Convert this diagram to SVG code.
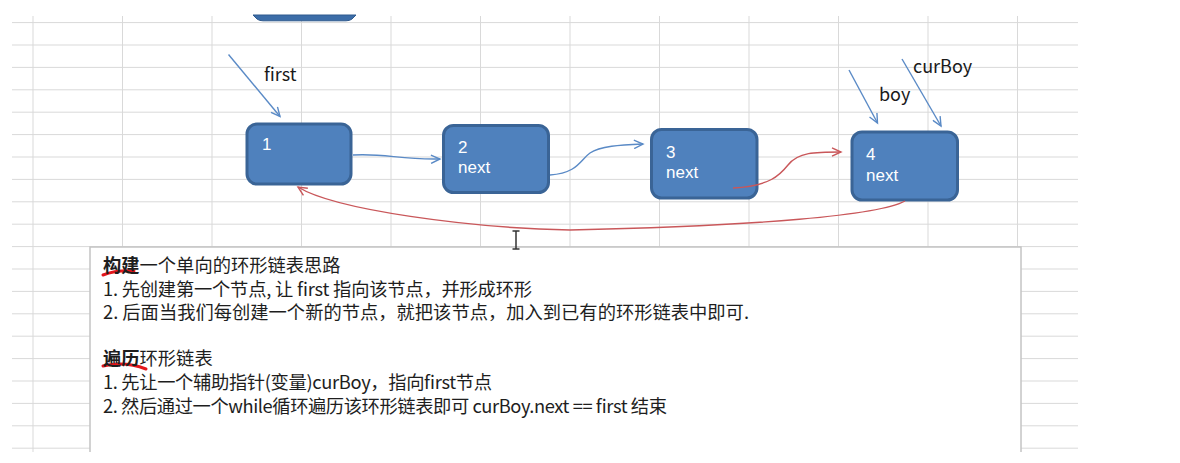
<svg xmlns="http://www.w3.org/2000/svg" width="1180" height="463" viewBox="0 0 1180 463">
  <style>
    .grid line { stroke: #d9d9d9; stroke-width: 1; }
    .node rect { fill: #4F81BD; stroke: #3A6496; stroke-width: 3; }
    .ntxt { font-family: "Liberation Sans", Arial, sans-serif; font-size: 17px; fill: #ffffff; }
    .lbl { font-family: "Noto Sans CJK SC", "Noto Sans", sans-serif; font-size: 18px; fill: #1a1a1a; }
    .blue { fill: none; stroke: #5A8AC6; stroke-width: 1.4; }
    .red { fill: none; stroke: #C9575A; stroke-width: 1.4; }
    .note { font-family: "Noto Sans CJK SC", "Noto Sans", sans-serif; font-size: 18.3px; fill: #1e1e1e; }
    .b { font-weight: 700; }
    .uline { fill: none; stroke: #e3161c; stroke-width: 3; stroke-linecap: round; }
  </style>
  <defs>
    <marker id="arrowBlue" viewBox="0 0 12 10" refX="10" refY="5" markerWidth="12" markerHeight="10" markerUnits="userSpaceOnUse" orient="auto">
      <path d="M1,0.8 L10,5 L1,9.2" fill="none" stroke="#5A8AC6" stroke-width="1.4"/>
    </marker>
    <marker id="arrowRed" viewBox="0 0 12 10" refX="10" refY="5" markerWidth="12" markerHeight="10" markerUnits="userSpaceOnUse" orient="auto">
      <path d="M1,0.8 L10,5 L1,9.2" fill="none" stroke="#C9575A" stroke-width="1.4"/>
    </marker>
  </defs>

  <rect x="0" y="0" width="1180" height="463" fill="#ffffff"/>

  <g id="grid" class="grid">
    <line x1="12" y1="22.6" x2="1078" y2="22.6"/>
    <line x1="12" y1="45" x2="1078" y2="45"/>
    <line x1="12" y1="67.4" x2="1078" y2="67.4"/>
    <line x1="12" y1="89.8" x2="1078" y2="89.8"/>
    <line x1="12" y1="112.2" x2="1078" y2="112.2"/>
    <line x1="12" y1="134.6" x2="1078" y2="134.6"/>
    <line x1="12" y1="157" x2="1078" y2="157"/>
    <line x1="12" y1="179.4" x2="1078" y2="179.4"/>
    <line x1="12" y1="201.8" x2="1078" y2="201.8"/>
    <line x1="12" y1="224.2" x2="1078" y2="224.2"/>
    <line x1="12" y1="246.6" x2="1078" y2="246.6"/>
    <line x1="12" y1="269" x2="1078" y2="269"/>
    <line x1="12" y1="291.4" x2="1078" y2="291.4"/>
    <line x1="12" y1="313.8" x2="1078" y2="313.8"/>
    <line x1="12" y1="336.2" x2="1078" y2="336.2"/>
    <line x1="12" y1="358.6" x2="1078" y2="358.6"/>
    <line x1="12" y1="381" x2="1078" y2="381"/>
    <line x1="12" y1="403.4" x2="1078" y2="403.4"/>
    <line x1="12" y1="425.8" x2="1078" y2="425.8"/>
    <line x1="12" y1="448.2" x2="1078" y2="448.2"/>
    <line x1="33" y1="16" x2="33" y2="452"/>
    <line x1="122.5" y1="16" x2="122.5" y2="452"/>
    <line x1="212" y1="16" x2="212" y2="452"/>
    <line x1="301.5" y1="16" x2="301.5" y2="452"/>
    <line x1="391" y1="16" x2="391" y2="452"/>
    <line x1="480.5" y1="16" x2="480.5" y2="452"/>
    <line x1="570" y1="16" x2="570" y2="452"/>
    <line x1="659.5" y1="16" x2="659.5" y2="452"/>
    <line x1="749" y1="16" x2="749" y2="452"/>
    <line x1="838.5" y1="16" x2="838.5" y2="452"/>
    <line x1="928" y1="16" x2="928" y2="452"/>
    <line x1="1017.5" y1="16" x2="1017.5" y2="452"/>
  </g>

  <g id="top-shape">
    <path d="M253,15 L356,15 L352,19 Q350,20.8 346,20.8 L263,20.8 Q259,20.8 257,19 Z" fill="#3C6DA8" stroke="#2F5A8E" stroke-width="1"/>
  </g>

  <g id="node1" class="node">
    <rect x="247" y="124" width="104" height="60" rx="10"/>
    <text class="ntxt" x="262" y="150">1</text>
  </g>
  <g id="node2" class="node">
    <rect x="443.5" y="125.5" width="105" height="67" rx="10"/>
    <text class="ntxt" x="458" y="152.5">2</text>
    <text class="ntxt" x="458" y="173">next</text>
  </g>
  <g id="node3" class="node">
    <rect x="651.5" y="129.5" width="105.5" height="68.5" rx="10"/>
    <text class="ntxt" x="666" y="157.5">3</text>
    <text class="ntxt" x="666" y="178">next</text>
  </g>
  <g id="node4" class="node">
    <rect x="852" y="132" width="105.5" height="68" rx="10"/>
    <text class="ntxt" x="866" y="160">4</text>
    <text class="ntxt" x="866" y="180.5">next</text>
  </g>

  <g id="connectors">
    <path class="blue" d="M228.5,54.5 L280,116.5" marker-end="url(#arrowBlue)"/>
    <path class="blue" d="M849,70 L877.5,123" marker-end="url(#arrowBlue)"/>
    <path class="blue" d="M902,59 L941,126" marker-end="url(#arrowBlue)"/>
    <path class="blue" d="M353,155 C385,153 400,160 440,159" marker-end="url(#arrowBlue)"/>
    <path class="blue" d="M550,175 C578,173 580,160 590,153 C600,146 620,145 643,144" marker-end="url(#arrowBlue)"/>
    <path class="red" d="M733,188 C770,186 780,175 788,165 C798,152 815,152 841,152" marker-end="url(#arrowRed)"/>
    <path class="red" d="M905,201 C880,215 760,226 570,230 C470,228 335,210 298,187" marker-end="url(#arrowRed)"/>
    <text class="lbl" x="264" y="81">first</text>
    <text class="lbl" x="879" y="101">boy</text>
    <text class="lbl" x="913" y="73">curBoy</text>
  </g>

  <g id="notes">
    <rect x="90" y="247" width="931" height="240" fill="#ffffff" stroke="#c4c4c4" stroke-width="1.5"/>
    <path class="uline" d="M103,275 Q116,270 134,271"/>
    <path class="uline" d="M103,366 Q125,361 146,369"/>
    <text class="note" x="103" y="272"><tspan class="b">构建</tspan>一个单向的环形链表思路</text>
    <text class="note" x="103" y="295.5" textLength="429" lengthAdjust="spacing">1. 先创建第一个节点, 让 first 指向该节点，并形成环形</text>
    <text class="note" x="103" y="319">2. 后面当我们每创建一个新的节点，就把该节点，加入到已有的环形链表中即可.</text>
    <text class="note" x="103" y="364.5"><tspan class="b">遍历</tspan>环形链表</text>
    <text class="note" x="103" y="389" textLength="389" lengthAdjust="spacing">1. 先让一个辅助指针(变量)curBoy，指向first节点</text>
    <text class="note" x="103" y="413" textLength="564" lengthAdjust="spacing">2. 然后通过一个while循环遍历该环形链表即可 curBoy.next == first 结束</text>
  </g>

  <g id="cursor">
    <path d="M512.5,231 H519.5 M516,231 V249 M512.5,249 H519.5" fill="none" stroke="#333333" stroke-width="1.5"/>
  </g>

  <rect x="0" y="452" width="1180" height="11" fill="#ffffff"/>
</svg>
